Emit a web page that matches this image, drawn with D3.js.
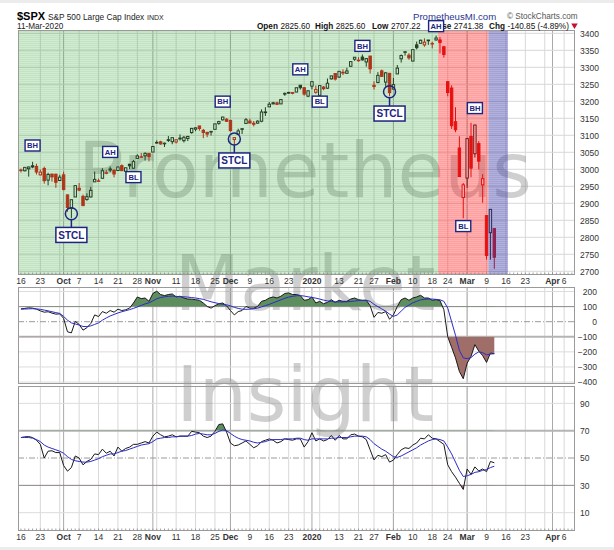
<!DOCTYPE html>
<html>
<head>
<meta charset="utf-8">
<script src="https://cdn.jsdelivr.net/npm/d3@7"></script>
<style>
  body { margin: 0; background: #fff; }
  text { font-family: "Liberation Sans", Arial, sans-serif; }
</style>
</head>
<body>
<script>
// ---- calendar ----
const holidays = ["2019-11-28", "2019-12-25", "2020-01-01", "2020-01-20", "2020-02-17"];
const firstDay = "2019-09-16";
const lastDay = "2020-04-08";
const prevClose = 3007.39; // close of 13-Sep-2019

// ---- daily OHLC, 16-Sep-2019 .. 11-Mar-2020 ----
const opens = [2996.41,2995.67,3001.50,3010.36,3008.42,2983.50,3002.43,2968.35,2985.73,2985.47,
  2967.07,2983.69,2924.78,2885.38,2918.56,2944.23,2920.40,2911.10,2918.55,2963.07,
  2965.81,2973.61,2989.68,3000.77,2996.84,2996.48,3010.73,2994.01,3014.78,3003.32,
  3032.12,3035.39,3039.74,3046.90,3050.72,3078.96,3080.80,3075.10,3087.02,3081.25,
  3080.33,3089.28,3084.18,3090.75,3107.92,3117.91,3127.45,3114.66,3108.49,3111.41,
  3117.44,3134.85,3145.49,3147.18,3143.85,3087.41,3103.50,3119.21,3134.62,3141.86,
  3135.36,3135.75,3141.23,3166.65,3183.63,3195.40,3195.21,3192.32,3223.33,3226.05,
  3225.45,3227.20,3247.23,3240.09,3215.18,3244.67,3226.36,3217.55,3241.86,3238.59,
  3266.03,3281.81,3271.13,3285.35,3282.27,3302.97,3323.66,3321.03,3330.02,3315.77,
  3333.10,3247.16,3255.35,3289.46,3256.45,3282.33,3235.66,3280.61,3324.91,3344.92,
  3335.54,3318.28,3365.87,3370.50,3365.90,3378.08,3369.04,3380.39,3380.45,3360.50,
  3257.61,3238.94,3139.90,3062.54,2916.90,2974.28,3096.46,3045.75,3075.70,2954.20,
  2863.89,2813.48,2825.60];
const highs = [3002.19,3006.21,3007.83,3021.99,3016.37,2999.15,3007.98,2989.82,2987.28,2987.31,
  2983.85,2992.53,2924.78,2911.13,2953.74,2959.75,2925.47,2929.32,2948.46,2993.28,
  2972.84,3003.28,2997.54,3008.29,3000.00,3007.33,3014.57,3004.78,3016.07,3027.39,
  3044.08,3047.87,3050.10,3046.90,3066.95,3085.20,3083.95,3078.34,3097.77,3093.09,
  3088.33,3102.61,3098.06,3098.20,3120.46,3124.17,3127.64,3118.97,3110.11,3112.87,
  3133.83,3142.69,3154.26,3150.30,3144.31,3094.97,3119.38,3119.45,3150.60,3148.87,
  3142.12,3143.98,3176.28,3182.68,3197.71,3198.22,3198.48,3205.48,3225.65,3227.78,
  3226.43,3240.08,3247.93,3240.92,3231.72,3258.14,3246.15,3246.84,3244.91,3267.07,
  3275.58,3282.99,3288.13,3294.25,3298.66,3317.11,3329.88,3329.79,3337.77,3326.88,
  3333.18,3258.85,3285.78,3293.47,3285.91,3282.33,3268.44,3306.92,3337.58,3347.96,
  3341.42,3352.26,3375.63,3381.47,3385.09,3380.69,3375.01,3393.52,3389.15,3360.76,
  3259.81,3246.99,3182.51,3097.07,2959.72,3090.96,3136.72,3130.97,3083.04,2985.93,
  2863.89,2882.59,2825.60];
const lows = [2990.67,2993.73,2978.57,3003.16,2984.68,2982.23,2957.73,2952.86,2963.71,2945.53,
  2967.07,2938.70,2874.93,2855.94,2918.56,2935.68,2892.66,2907.41,2917.12,2963.07,
  2962.94,2973.61,2985.20,2991.79,2976.31,2995.35,2995.04,2991.21,3000.42,3001.94,
  3032.12,3034.81,3025.96,3023.19,3050.72,3074.87,3072.15,3065.89,3080.23,3073.58,
  3075.82,3084.73,3078.80,3083.26,3104.60,3112.06,3113.47,3091.41,3094.55,3099.26,
  3117.44,3131.00,3143.41,3139.34,3110.78,3070.33,3102.53,3103.76,3134.62,3135.46,
  3126.09,3133.21,3138.47,3156.51,3183.63,3191.03,3191.14,3192.32,3216.03,3222.30,
  3220.51,3227.20,3234.37,3216.57,3212.03,3235.53,3222.34,3214.64,3232.43,3236.67,
  3263.67,3260.86,3268.43,3277.19,3280.69,3302.82,3318.86,3316.61,3320.04,3301.87,
  3281.53,3234.50,3253.22,3271.89,3242.80,3214.68,3235.66,3280.61,3313.75,3334.39,
  3322.12,3317.77,3352.72,3369.72,3360.52,3366.15,3355.61,3378.83,3341.02,3328.45,
  3214.65,3118.77,3108.99,2977.39,2855.84,2945.19,2976.63,3034.38,2999.83,2901.54,
  2734.43,2734.00,2707.22];
const closes = [2997.96,3005.70,3006.73,3006.79,2992.07,2991.78,2966.60,2984.87,2977.62,2961.79,
  2976.74,2940.25,2887.61,2910.63,2952.01,2938.79,2893.06,2919.40,2938.13,2970.27,
  2966.15,2995.68,2989.69,2997.95,2986.20,3006.72,2995.99,3004.52,3010.29,3022.55,
  3039.42,3036.89,3046.77,3037.56,3066.91,3078.27,3074.62,3076.78,3085.18,3093.08,
  3087.01,3091.84,3094.04,3096.63,3120.46,3122.03,3120.18,3108.46,3103.54,3110.29,
  3133.64,3140.52,3153.63,3140.98,3113.87,3093.20,3112.76,3117.43,3145.91,3135.96,
  3132.52,3141.63,3168.57,3168.80,3191.45,3192.52,3191.14,3205.37,3221.22,3224.01,
  3223.38,3239.91,3240.02,3221.29,3230.78,3257.85,3234.85,3246.28,3237.18,3253.05,
  3274.70,3265.35,3288.13,3283.15,3289.29,3316.81,3329.62,3320.79,3321.75,3325.54,
  3295.47,3243.63,3276.24,3273.40,3283.66,3225.52,3248.92,3297.59,3334.69,3345.78,
  3327.71,3352.09,3357.75,3379.45,3373.94,3380.16,3370.29,3386.15,3373.23,3337.75,
  3225.89,3128.21,3116.39,2978.76,2954.22,3090.23,3003.37,3130.12,3023.94,2972.37,
  2746.56,2882.23,2741.38];

// ---- CCI (black) and its signal (blue) ----
const cciValues = [85,88,92,90,83,72,63,66,57,50,
  52,22,-67,-74,2,-18,-56,-40,-12,45,
  34,67,56,74,63,83,74,79,90,124,
  164,153,157,135,187,202,180,173,180,184,
  164,169,157,150,150,146,142,124,101,90,
  106,119,124,106,74,45,67,74,101,90,
  90,101,135,142,157,164,157,169,187,191,
  180,180,173,142,146,164,124,135,119,128,
  146,128,142,135,135,150,157,146,142,142,
  106,29,61,56,67,16,45,101,146,157,
  142,157,164,175,157,157,142,146,140,80,
  -100,-170,-240,-330,-378,-275,-230,-152,-195,-225,
  -270,-208,-212];
const cciSignal = [83,84,85,86,85,82,77,72,66,60,
  55,35,10,-8,-15,-22,-32,-32,-28,-18,
  -8,10,25,38,48,58,66,73,80,88,
  98,108,118,125,138,152,160,165,168,170,
  168,166,165,163,160,157,153,148,140,132,
  126,120,115,112,105,95,88,83,82,83,
  86,90,98,106,115,125,135,145,155,163,
  168,172,173,170,165,161,156,150,143,138,
  134,132,131,131,132,134,137,140,141,142,
  135,115,100,85,70,50,35,45,70,95,
  110,125,135,145,148,150,150,148,145,135,
  90,0,-90,-190,-240,-245,-238,-215,-200,-205,
  -220,-215,-212];

// ---- RSI (black) and its signal (blue) ----
const rsiValues = [65,65.5,65.7,65,63,60,50,55,55.3,54,
  54,44.5,40.4,43,51.5,50,45,47.5,49,53,
  52.5,56.5,53.5,55,51.5,58,55,57,58,60,
  60,61,62,61,66,69,67,65.5,66,67,
  65.5,66,66,66,69.5,69,68.5,66,65,66,
  69.5,74.5,75,69,61,59,59.5,61,62.5,60,
  57.5,59,62,63,64,63,61,62,64,63.5,
  63,64,64,58,62,68.5,62.5,64,62.5,63.5,
  66.5,63,66.5,64,64,67,67.5,66,65.5,63.5,
  56,48.6,52,51,52.5,47,48.5,52.5,56,57.5,
  57,59.5,61,64.5,64,67,64.5,64,62,60,
  45,40,36,31.5,27,42,38,43.5,40.5,42,
  40,47.5,46.5];
const rsiSignal = [65,65,65,64.5,63.5,62,59.5,58,57,56,
  55,53.5,51,49,48,47.5,47,47,47.5,48.5,
  49.5,51,52,53,53,54,55,55.5,56.5,57.5,
  58.5,59.5,60,60.5,62,64,64.5,65,65,65.5,
  65.5,66,66,66,66.5,67.5,68,67.5,67,67,
  68,69.5,70.5,70,68,66,64.5,63.5,63,62.5,
  61.5,61,61.5,62,63,63.5,63.5,63.5,64,64,
  64,64.5,64.5,63.5,63,64,64,64,64,64,
  64.5,64.5,65,65,65,65.5,66,66,66,65.5,
  63.5,60.5,58.5,56.5,55,53,51,50.5,51.5,53,
  54.5,56,57.5,59.5,61,62.5,63.5,64,63.5,62.5,
  58,53,47,41,36.5,37,38,39.5,40,41,
  41.5,43,44];

// ---- axis labels ----
const tickDates = ["2019-09-16","2019-09-23","2019-10-01","2019-10-07","2019-10-14","2019-10-21",
  "2019-10-28","2019-11-01","2019-11-11","2019-11-18","2019-11-25","2019-12-02","2019-12-09",
  "2019-12-16","2019-12-23","2020-01-02","2020-01-13","2020-01-21","2020-01-27","2020-02-03",
  "2020-02-10","2020-02-18","2020-02-24","2020-03-02","2020-03-09","2020-03-16","2020-03-23",
  "2020-04-01","2020-04-06"];
const tickLabels = ["16","23","Oct","7","14","21","28","Nov","11","18","25","Dec","9","16","23",
  "2020","13","21","27","Feb","10","18","24","Mar","9","16","23","Apr","6"];
const boldLabels = ["Oct","Nov","Dec","2020","Feb","Mar","Apr"];
const priceTicks = d3.range(2700, 3401, 50);
const cciTicks = [200, 100, 0, -100, -200, -300, -400];
const rsiTicks = [90, 70, 50, 30, 10];

// ---- shaded zones (last day of each) ----
const zoneNames = ["green", "red", "blue"];
const zoneEnds = ["2020-02-19", "2020-03-09", "2020-03-16"];

// ---- annotations ----
const noteDates = ["2019-09-19","2019-10-17","2019-10-25","2019-11-27","2019-12-27","2020-01-06",
  "2020-01-22","2020-02-19","2020-03-04","2020-02-28"];
const notePrices = [3070, 3051, 2977, 3199, 3294, 3199, 3363, 3421, 3180, 2833];
const noteLabels = ["BH","AH","BL","BH","AH","BL","BH","AH","BH","BL"];
const stclDates = ["2019-10-03", "2019-12-03", "2020-01-31"];
const stclRing = [2869, 3089, 3228];
const stclBox = [2807, 3026, 3164];

// ---- header ----
const headLabels = ["Open", "High", "Low", "Close", "Chg"];
const headValues = ["2825.60", "2825.60", "2707.22", "2741.38", "-140.85 (-4.89%)"];
const headX = [257, 315, 372, 429, 489];

// colours
const navy = "#1c2580";
const upColor = "#111";
const downColor = "#d60000";
const zoneStyle = {
  green: { color: "rgb(76,175,80)", a1: 0.26, a2: 0.34 },
  red: { color: "rgb(255,40,40)", a1: 0.36, a2: 0.44 },
  blue: { color: "rgb(70,70,170)", a1: 0.42, a2: 0.5 }
};

// ---------------------------------------------------------------
const width = 614, height = 550;
const svg = d3.select("body").append("svg")
  .attr("width", width).attr("height", height).style("display", "block");

svg.append("rect").attr("width", width).attr("height", height).attr("fill", "#fff");
svg.append("rect").attr("width", width).attr("height", 3).attr("fill", "#ececec");
svg.append("rect").attr("y", height - 3).attr("width", width).attr("height", 3).attr("fill", "#ececec");

const fmt = d3.utcFormat("%Y-%m-%d");
const tradingDays = d3.utcDays(new Date(firstDay), d3.utcDay.offset(new Date(lastDay), 1))
  .filter(d => d.getUTCDay() % 6 !== 0)
  .map(fmt)
  .filter(s => !holidays.includes(s));
const dataDays = tradingDays.slice(0, closes.length);

const weekStarts = tradingDays.filter((d, i) => i > 0 &&
  +d3.utcMonday.floor(new Date(d)) !== +d3.utcMonday.floor(new Date(tradingDays[i - 1])));
const monthStarts = tradingDays.filter((d, i) => i > 0 && d.slice(0, 7) !== tradingDays[i - 1].slice(0, 7));

// panels
const L = 18, R = 575;
const pricePanel = { top: 30, bottom: 275 };
const cciPanel = { top: 287, bottom: 384 };
const rsiPanel = { top: 386, bottom: 531 };

const x = d3.scaleBand().domain(tradingDays).range([19, 19 + tradingDays.length * 3.88]);
const bw = x.bandwidth();
const xc = d => x(d) + bw / 2;

const yPrice = d3.scaleLinear().domain([2689.1, 3409.7]).range([pricePanel.bottom, pricePanel.top]);
const yCci = d3.scaleLinear().domain([-413, 230]).range([cciPanel.bottom, cciPanel.top]);
const yRsi = d3.scaleLinear().domain([-3.4, 102.7]).range([rsiPanel.bottom, rsiPanel.top]);

const defs = svg.append("defs");
zoneNames.forEach(n => {
  const s = zoneStyle[n];
  const p = defs.append("pattern").attr("id", "pat-" + n)
    .attr("patternUnits", "userSpaceOnUse").attr("width", 4).attr("height", 2);
  p.append("rect").attr("width", 4).attr("height", 1).attr("fill", s.color).attr("fill-opacity", s.a1);
  p.append("rect").attr("y", 1).attr("width", 4).attr("height", 1).attr("fill", s.color).attr("fill-opacity", s.a2);
});

const gGrid = svg.append("g");
const gWater = svg.append("g");
const gMarks = svg.append("g");
const gOver = svg.append("g");
const gFrame = svg.append("g");
const gText = svg.append("g");
const gNotes = svg.append("g");

// vertical grid in every panel
[pricePanel, cciPanel, rsiPanel].forEach(p => {
  gGrid.selectAll(null).data(weekStarts).enter().append("line")
    .attr("x1", d => xc(d)).attr("x2", d => xc(d))
    .attr("y1", p.top).attr("y2", p.bottom)
    .attr("stroke", "#d8d8d8").attr("stroke-width", 1);
  gGrid.selectAll(null).data(monthStarts).enter().append("line")
    .attr("x1", d => xc(d)).attr("x2", d => xc(d))
    .attr("y1", p.top).attr("y2", p.bottom)
    .attr("stroke", "#a9a9a9").attr("stroke-width", 1);
});

// horizontal grid
gGrid.selectAll(null).data(priceTicks).enter().append("line")
  .attr("x1", L).attr("x2", R).attr("y1", d => yPrice(d)).attr("y2", d => yPrice(d))
  .attr("stroke", "#d8d8d8");
gGrid.selectAll(null).data(cciTicks.filter(v => Math.abs(v) !== 100 && v !== 0)).enter().append("line")
  .attr("x1", L).attr("x2", R).attr("y1", d => yCci(d)).attr("y2", d => yCci(d))
  .attr("stroke", "#dcdcdc");
gGrid.selectAll(null).data([90, 10]).enter().append("line")
  .attr("x1", L).attr("x2", R).attr("y1", d => yRsi(d)).attr("y2", d => yRsi(d))
  .attr("stroke", "#dcdcdc");

// reference lines
const refLine = (g, y, color, w, dash) => g.append("line")
  .attr("x1", L).attr("x2", R).attr("y1", y).attr("y2", y)
  .attr("stroke", color).attr("stroke-width", w).attr("stroke-dasharray", dash || null);
refLine(gGrid, yCci(100), "#8a8a8a", 1);
refLine(gGrid, yCci(-100), "#b4b4b4", 2);
refLine(gGrid, yCci(0), "#9a9a9a", 1, "6,2,1,2");
refLine(gGrid, yRsi(70), "#b4b4b4", 2);
refLine(gGrid, yRsi(30), "#8a8a8a", 1);
refLine(gGrid, yRsi(50), "#9a9a9a", 1, "6,2,1,2");

// watermark
const water = ["Prometheus", "Market", "Insight"];
const waterY = [197, 310, 421];
gWater.selectAll("text").data(water).enter().append("text")
  .attr("x", 305).attr("y", (d, i) => waterY[i])
  .attr("text-anchor", "middle")
  .style("font-family", "'DejaVu Sans', sans-serif")
  .style("font-size", "76px")
  .attr("fill", "#808080").attr("fill-opacity", 0.38)
  .text(d => d);

// candles
const bars = dataDays.map((d, i) => ({
  date: d, o: opens[i], h: highs[i], l: lows[i], c: closes[i],
  pc: i ? closes[i - 1] : prevClose
}));
const colorOf = d => d.c >= d.pc ? upColor : downColor;

gMarks.selectAll(".wick").data(bars).enter().append("line")
  .attr("class", "wick")
  .attr("x1", d => xc(d.date)).attr("x2", d => xc(d.date))
  .attr("y1", d => yPrice(d.h)).attr("y2", d => yPrice(d.l))
  .attr("stroke", colorOf).attr("stroke-width", 1);

gMarks.selectAll(".body").data(bars).enter().append("rect")
  .attr("class", "body")
  .attr("x", d => xc(d.date) - 1.2)
  .attr("width", 2.4)
  .attr("y", d => yPrice(Math.max(d.o, d.c)))
  .attr("height", d => Math.max(0.6, Math.abs(yPrice(d.o) - yPrice(d.c))))
  .attr("fill", d => d.c > d.o ? "#fff" : colorOf(d))
  .attr("stroke", colorOf).attr("stroke-width", 1);

// shaded zones on top
let zStart = L;
zoneNames.forEach((n, i) => {
  const zEnd = x(zoneEnds[i]) + bw;
  gOver.append("rect")
    .attr("x", zStart).attr("width", zEnd - zStart)
    .attr("y", pricePanel.top).attr("height", pricePanel.bottom - pricePanel.top)
    .attr("fill", "url(#pat-" + n + ")");
  zStart = zEnd;
});

// CCI
const cciData = dataDays.map((d, i) => ({ date: d, v: cciValues[i], s: cciSignal[i] }));
defs.append("clipPath").attr("id", "cci-up").append("rect")
  .attr("x", L).attr("width", R - L).attr("y", cciPanel.top).attr("height", yCci(100) - cciPanel.top);
defs.append("clipPath").attr("id", "cci-dn").append("rect")
  .attr("x", L).attr("width", R - L).attr("y", yCci(-100)).attr("height", cciPanel.bottom - yCci(-100));

gMarks.append("path").datum(cciData)
  .attr("clip-path", "url(#cci-up)").attr("fill", "#5e8e5e")
  .attr("d", d3.area().x(d => xc(d.date)).y0(yCci(100)).y1(d => yCci(d.v)));
gMarks.append("path").datum(cciData)
  .attr("clip-path", "url(#cci-dn)").attr("fill", "#a06e69")
  .attr("d", d3.area().x(d => xc(d.date)).y0(yCci(-100)).y1(d => yCci(d.v)));
gMarks.append("path").datum(cciData)
  .attr("fill", "none").attr("stroke", "#1a1a1a").attr("stroke-width", 1)
  .attr("d", d3.line().x(d => xc(d.date)).y(d => yCci(d.v)));
gMarks.append("path").datum(cciData)
  .attr("fill", "none").attr("stroke", "#2b2bc8").attr("stroke-width", 1)
  .attr("d", d3.line().x(d => xc(d.date)).y(d => yCci(d.s)));

// RSI
const rsiData = dataDays.map((d, i) => ({ date: d, v: rsiValues[i], s: rsiSignal[i] }));
defs.append("clipPath").attr("id", "rsi-up").append("rect")
  .attr("x", L).attr("width", R - L).attr("y", rsiPanel.top).attr("height", yRsi(70) - rsiPanel.top);
defs.append("clipPath").attr("id", "rsi-dn").append("rect")
  .attr("x", L).attr("width", R - L).attr("y", yRsi(30)).attr("height", rsiPanel.bottom - yRsi(30));

gMarks.append("path").datum(rsiData)
  .attr("clip-path", "url(#rsi-up)").attr("fill", "#5e8e5e")
  .attr("d", d3.area().x(d => xc(d.date)).y0(yRsi(70)).y1(d => yRsi(d.v)));
gMarks.append("path").datum(rsiData)
  .attr("clip-path", "url(#rsi-dn)").attr("fill", "#a06e69")
  .attr("d", d3.area().x(d => xc(d.date)).y0(yRsi(30)).y1(d => yRsi(d.v)));
gMarks.append("path").datum(rsiData)
  .attr("fill", "none").attr("stroke", "#1a1a1a").attr("stroke-width", 1)
  .attr("d", d3.line().x(d => xc(d.date)).y(d => yRsi(d.v)));
gMarks.append("path").datum(rsiData)
  .attr("fill", "none").attr("stroke", "#2b2bc8").attr("stroke-width", 1)
  .attr("d", d3.line().x(d => xc(d.date)).y(d => yRsi(d.s)));

// frames and daily ticks
[pricePanel, cciPanel, rsiPanel].forEach(p => {
  gFrame.append("rect")
    .attr("x", L + 0.5).attr("y", p.top + 0.5)
    .attr("width", R - L - 1).attr("height", p.bottom - p.top - 1)
    .attr("fill", "none").attr("stroke", "#9a9a9a");
});
[pricePanel, rsiPanel].forEach(p => {
  gFrame.selectAll(null).data(tradingDays).enter().append("line")
    .attr("x1", d => xc(d)).attr("x2", d => xc(d))
    .attr("y1", p.bottom - 2.5).attr("y2", p.bottom - 0.5)
    .attr("stroke", "#8a8a8a").attr("stroke-width", 0.8);
});

// x axes
const labelOf = new Map(tickDates.map((d, i) => [d, tickLabels[i]]));
[284, 539.5].forEach(yy => {
  const ax = gText.append("g").attr("transform", `translate(0,${yy})`)
    .call(d3.axisBottom(x).tickValues(tickDates).tickFormat(d => labelOf.get(d)).tickSize(0).tickPadding(0));
  ax.select(".domain").remove();
  ax.selectAll("text")
    .attr("y", 0).attr("dy", 0)
    .attr("fill", "#333")
    .style("font-family", "'Liberation Sans', Arial, sans-serif")
    .style("font-size", "8.5px")
    .style("font-weight", d => boldLabels.includes(labelOf.get(d)) ? "bold" : "normal");
});

// y axes
const styleAxis = (ax) => {
  ax.select(".domain").remove();
  ax.selectAll("text").attr("fill", "#333")
    .style("font-family", "'Liberation Sans', Arial, sans-serif")
    .style("font-size", "8.5px");
};
const plain = d3.format("d");
const axP = gText.append("g").attr("transform", "translate(580,0)")
  .call(d3.axisRight(yPrice).tickValues(priceTicks).tickFormat(plain).tickSize(0).tickPadding(0));
styleAxis(axP);
const axC = gText.append("g").attr("transform", "translate(597,0)")
  .call(d3.axisRight(yCci).tickValues(cciTicks).tickFormat(plain).tickSize(0).tickPadding(0));
styleAxis(axC);
axC.selectAll("text").attr("text-anchor", "end");
const axR = gText.append("g").attr("transform", "translate(580,0)")
  .call(d3.axisRight(yRsi).tickValues(rsiTicks).tickFormat(plain).tickSize(0).tickPadding(0));
styleAxis(axR);

// header
gText.append("text").attr("x", 17).attr("y", 19.5)
  .style("font-size", "11px").style("font-weight", "bold").attr("fill", "#000").text("$SPX");
gText.append("text").attr("x", 48).attr("y", 19.5)
  .style("font-size", "8.3px").attr("fill", "#222").text("S&P 500 Large Cap Index");
gText.append("text").attr("x", 147).attr("y", 19.5)
  .style("font-size", "7px").attr("fill", "#222").text("INDX");
gText.append("text").attr("x", 17).attr("y", 28.5)
  .style("font-size", "8.2px").attr("fill", "#222").text("11-Mar-2020");
headLabels.forEach((lab, i) => {
  const t = gText.append("text").attr("x", headX[i]).attr("y", 28.5)
    .style("font-size", "8.2px").attr("fill", "#111");
  t.append("tspan").style("font-weight", "bold").text(lab);
  t.append("tspan").attr("dx", 2.5).text(headValues[i]);
});
gText.append("path")
  .attr("d", d3.symbol(d3.symbolTriangle, 18)())
  .attr("transform", "translate(574.5,25.3) rotate(180)")
  .attr("fill", "#c8102e");
gText.append("text").attr("x", 413).attr("y", 19.5)
  .style("font-size", "9.6px").attr("fill", "#2b3590").text("PrometheusMI.com");
gText.append("text").attr("x", 507).attr("y", 19)
  .style("font-size", "8.2px").attr("fill", "#555").text("\u00A9 StockCharts.com");

// annotation boxes
const notes = noteDates.map((d, i) => ({ date: d, price: notePrices[i], label: noteLabels[i] }));
const ng = gNotes.selectAll(".note").data(notes).enter().append("g")
  .attr("transform", d => `translate(${xc(d.date)},${yPrice(d.price)})`);
ng.append("rect").attr("x", -7.5).attr("y", -5.5).attr("width", 15).attr("height", 11)
  .attr("fill", "#fff").attr("stroke", navy).attr("stroke-width", 1.4);
ng.append("text").attr("text-anchor", "middle").attr("dy", "0.36em")
  .style("font-size", "7.6px").style("font-weight", "bold").attr("fill", navy)
  .text(d => d.label);

const stcl = stclDates.map((d, i) => ({ date: d, ring: stclRing[i], box: stclBox[i] }));
const sg = gNotes.selectAll(".stcl").data(stcl).enter().append("g");
sg.append("circle")
  .attr("cx", d => xc(d.date)).attr("cy", d => yPrice(d.ring)).attr("r", 6)
  .attr("fill", "none").attr("stroke", navy).attr("stroke-width", 1.5);
sg.append("line")
  .attr("x1", d => xc(d.date)).attr("x2", d => xc(d.date))
  .attr("y1", d => yPrice(d.ring) + 6).attr("y2", d => yPrice(d.box) - 7.5)
  .attr("stroke", navy).attr("stroke-width", 1.5);
sg.append("rect")
  .attr("x", d => xc(d.date) - 15.5).attr("y", d => yPrice(d.box) - 7.5)
  .attr("width", 31).attr("height", 15)
  .attr("fill", "#fff").attr("stroke", navy).attr("stroke-width", 1.5);
sg.append("text")
  .attr("x", d => xc(d.date)).attr("y", d => yPrice(d.box)).attr("dy", "0.36em")
  .attr("text-anchor", "middle")
  .style("font-size", "10px").style("font-weight", "bold").attr("fill", navy)
  .text("STCL");
</script>
</body>
</html>
